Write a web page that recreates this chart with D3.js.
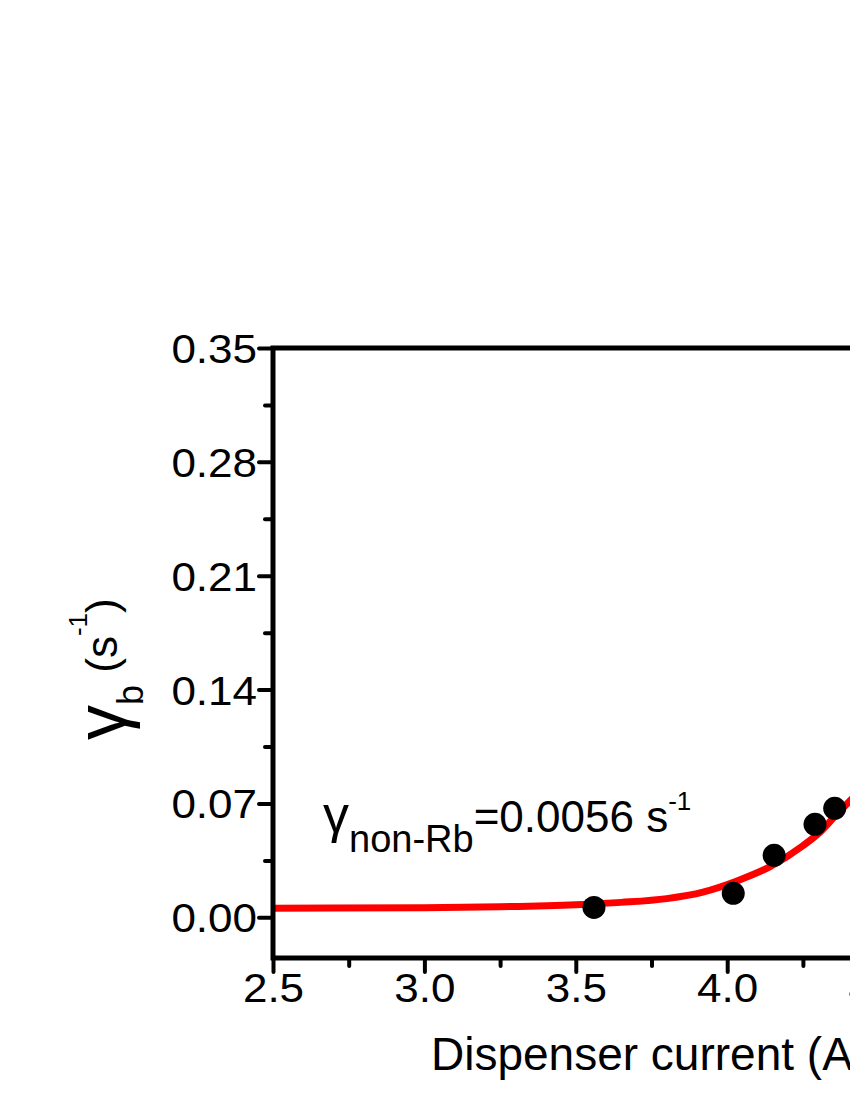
<!DOCTYPE html>
<html>
<head>
<meta charset="utf-8">
<script src="https://cdn.jsdelivr.net/npm/d3@7"></script>
<style>
body { margin: 0; background: #fff; overflow: hidden; }
svg { display: block; }
text { font-family: "Liberation Sans", Arial, sans-serif; fill: #000; }
</style>
</head>
<body>
<div class="chart"></div>
<script>
/*global d3*/

// measured points
const current = [3.56, 4.02, 4.155, 4.29, 4.355];
const gammaB = [0.0061, 0.0148, 0.0381, 0.0572, 0.0670];

// red fit line
const fitCurrent = [2.5, 3.0, 3.25, 3.5, 3.65, 3.8, 3.92, 4.03, 4.14, 4.25, 4.31, 4.36, 4.42, 4.5];
const fitGamma = [0.0056, 0.0059, 0.0065, 0.0078, 0.0092, 0.0115, 0.0155, 0.0222, 0.0310, 0.0440, 0.0530, 0.0630, 0.0745, 0.092];

const xTicks = [2.5, 3.0, 3.5, 4.0, 4.5, 5.0];
const xMinor = [2.75, 3.25, 3.75, 4.25, 4.75];
const yTicks = [0, 0.07, 0.14, 0.21, 0.28, 0.35];
const yMinor = [0.035, 0.105, 0.175, 0.245, 0.315];

const main = () => {
    const margin = {top: 348, left: 273},
          width = 757,
          height = 610,
          stretch = 1.1;

    const svg = d3.select(".chart").append("svg")
        .attr("width", 850)
        .attr("height", 1100);

    const g = svg.append("g")
        .attr("transform", "translate(" + margin.left + "," + margin.top + ")");

    const x = d3.scaleLinear().domain([2.5, 5.0]).range([0, width]);
    const y = d3.scaleLinear().domain([-0.025, 0.35]).range([height, 0]);

    // fit line
    const line = d3.line()
        .x(d => x(d[0]))
        .y(d => y(d[1]))
        .curve(d3.curveMonotoneX);

    g.append("path")
        .datum(fitCurrent.map((c, i) => [c, fitGamma[i]]))
        .attr("d", line)
        .attr("fill", "none")
        .attr("stroke", "#ff0000")
        .attr("stroke-width", 7);

    // points
    g.append("g")
        .selectAll("circle")
        .data(current.map((c, i) => [c, gammaB[i]]))
        .enter().append("circle")
        .attr("cx", d => x(d[0]))
        .attr("cy", d => y(d[1]))
        .attr("r", 11.5)
        .attr("fill", "#000");

    // minor ticks
    g.append("g")
        .attr("transform", "translate(0," + height + ")")
        .call(d3.axisBottom(x).tickValues(xMinor).tickSize(8).tickSizeOuter(0).tickFormat(""))
        .call(a => a.select(".domain").remove());
    g.append("g")
        .call(d3.axisLeft(y).tickValues(yMinor).tickSize(8).tickSizeOuter(0).tickFormat(""))
        .call(a => a.select(".domain").remove());

    // major ticks
    const xAxis = g.append("g")
        .attr("transform", "translate(0," + height + ")")
        .call(d3.axisBottom(x).tickValues(xTicks).tickSize(14).tickSizeOuter(0).tickFormat(d3.format(".1f")));
    xAxis.select(".domain").remove();
    xAxis.selectAll(".tick text")
        .attr("y", 44)
        .attr("dy", 0)
        .style("font-size", "40px")
        .attr("transform", "scale(" + stretch + ",1)");

    const yAxis = g.append("g")
        .call(d3.axisLeft(y).tickValues(yTicks).tickSize(14).tickSizeOuter(0).tickFormat(d3.format(".2f")));
    yAxis.select(".domain").remove();
    yAxis.selectAll(".tick text")
        .attr("x", -16 / stretch)
        .attr("dy", "0.36em")
        .style("font-size", "40px")
        .attr("transform", "scale(" + stretch + ",1)");

    g.selectAll(".tick line")
        .attr("stroke", "#000")
        .attr("stroke-width", 4)
        .attr("stroke-linecap", "round");

    // frame
    g.append("rect")
        .attr("width", width)
        .attr("height", height)
        .attr("fill", "none")
        .attr("stroke", "#000")
        .attr("stroke-width", 5);

    // x title
    svg.append("text")
        .attr("x", 431)
        .attr("y", 1070)
        .style("font-size", "46px")
        .text("Dispenser current (A)");

    // y title
    const yt = svg.append("text")
        .attr("transform", "translate(117,740) rotate(-90)")
        .style("font-size", "44px");
    yt.append("tspan").style("font-size", "70px").attr("dy", 8).text("γ");
    yt.append("tspan").style("font-size", "36px").attr("dy", 18).text("b");
    yt.append("tspan").attr("dy", -26).text(" (s");
    yt.append("tspan").style("font-size", "26px").attr("dy", -30).text("-1");
    yt.append("tspan").attr("dy", 30).text(")");

    // annotation
    const ann = svg.append("text")
        .attr("x", 323)
        .attr("y", 832)
        .style("font-size", "44px");
    ann.append("tspan").style("font-size", "52px").text("γ");
    ann.append("tspan").style("font-size", "38px").attr("dy", 20).text("non-Rb");
    ann.append("tspan").attr("dy", -20).text("=0.0056 s");
    ann.append("tspan").style("font-size", "26px").attr("dy", -22).text("-1");
};

main();
</script>
</body>
</html>
